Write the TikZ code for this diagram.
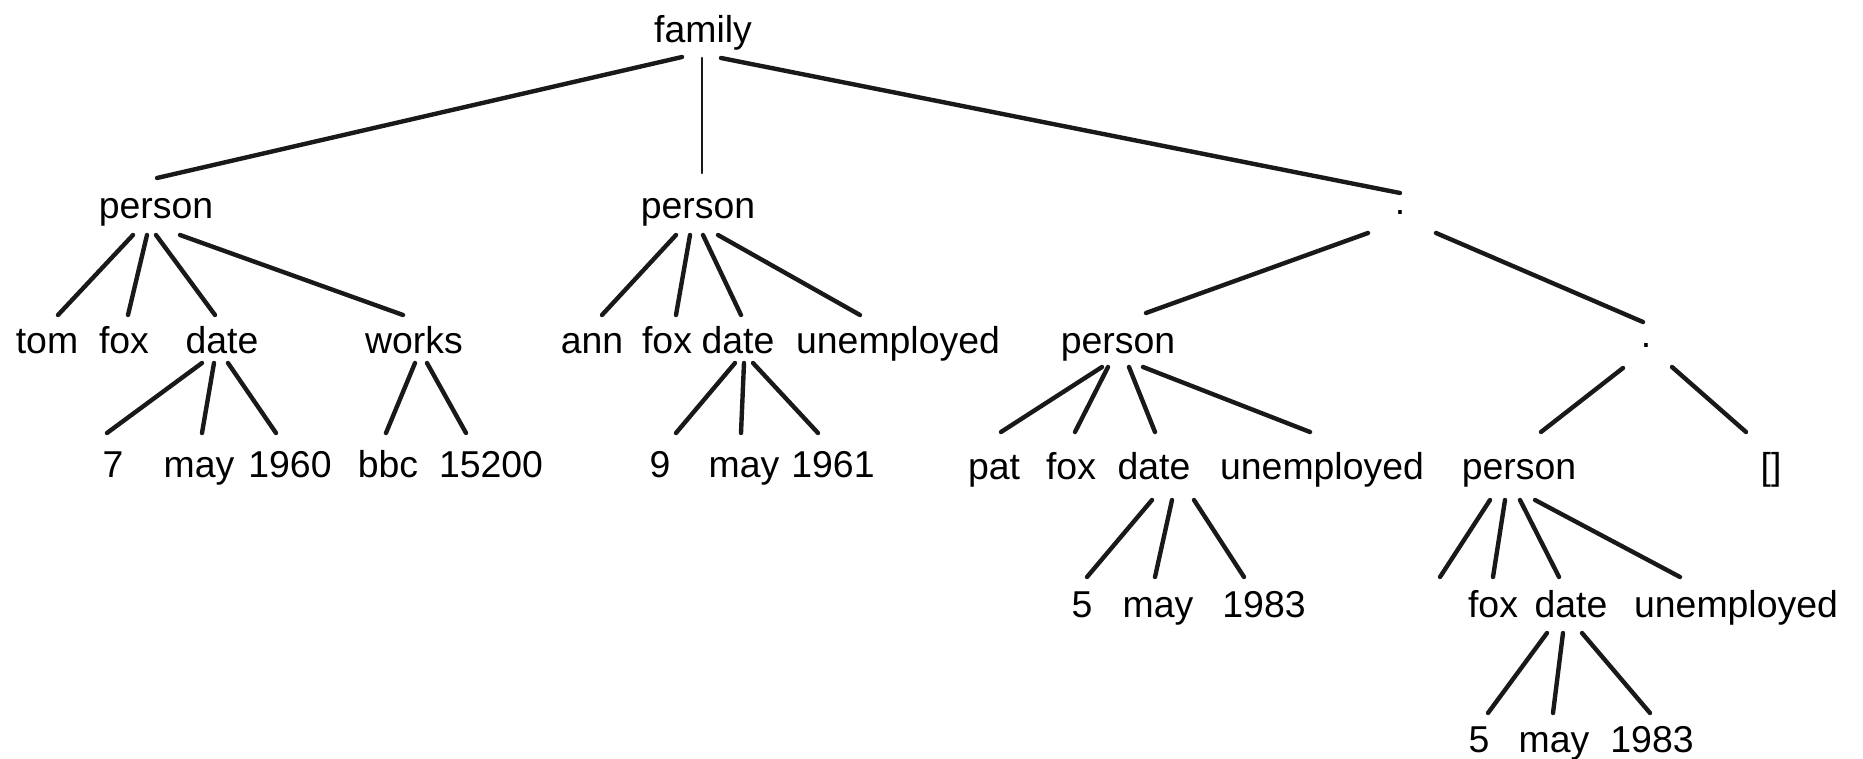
\documentclass[tikz,border=0pt]{standalone}
\usepackage{fontspec}
\setmainfont{Liberation Sans}
\usetikzlibrary{calc}
\newcommand\tedge[7][]{\draw[edge,#1] ($(#2.base)+(#3,#4)$) -- ($(#5.base)+(#6,#7)$);}
\begin{document}
\begin{tikzpicture}[x=0.5pt,y=-0.5pt,
  lbl/.style={anchor=base,inner sep=0pt,outer sep=0pt,font=\fontsize{18.7}{22}\selectfont},
  edge/.style={line width=2.2pt,line cap=round,black!90},
  thin edge/.style={line width=1.3pt}]
\useasboundingbox[fill=white] (0,0) rectangle (1863,759);
% level 0
\node[lbl] (fam) at (703,43) {family};
% level 1
\node[lbl] (p1) at (156,219) {person};
\node[lbl] (p2) at (698,219) {person};
\node[lbl] (d1) at (1400,215) {.};
% level 2
\node[lbl] (tom) at (47,353) {tom};
\node[lbl] (fox1) at (124,353) {fox};
\node[lbl] (date1) at (222,353) {date};
\node[lbl] (works) at (414,353) {works};
\node[lbl] (ann) at (592,353) {ann};
\node[lbl] (fox2) at (667,353) {fox};
\node[lbl] (date2) at (738,353) {date};
\node[lbl] (unemp1) at (898,353) {unemployed};
\node[lbl] (p3) at (1118,353) {person};
\node[lbl] (d2) at (1646,347) {.};
% level 3
\node[lbl] (n7) at (113,477) {7};
\node[lbl] (may1) at (199,477) {may};
\node[lbl] (y1960) at (290,477) {1960};
\node[lbl] (bbc) at (388,477) {bbc};
\node[lbl] (n15200) at (491,477) {15200};
\node[lbl] (n9) at (660,477) {9};
\node[lbl] (may2) at (744,477) {may};
\node[lbl] (y1961) at (833,477) {1961};
\node[lbl] (pat) at (994,479) {pat};
\node[lbl] (fox3) at (1071,479) {fox};
\node[lbl] (date3) at (1154,479) {date};
\node[lbl] (unemp2) at (1322,479) {unemployed};
\node[lbl] (p4) at (1519,479) {person};
\node[lbl] (nil) at (1771,479) {[]};
% level 4
\node[lbl] (n5a) at (1082,617) {5};
\node[lbl] (may3) at (1158,617) {may};
\node[lbl] (y1983a) at (1264,617) {1983};
\coordinate (blank) at (1440,577);
\node[lbl] (fox4) at (1493,617) {fox};
\node[lbl] (date4) at (1571,617) {date};
\node[lbl] (unemp3) at (1736,617) {unemployed};
% level 5
\node[lbl] (n5b) at (1479,752) {5};
\node[lbl] (may4) at (1554,752) {may};
\node[lbl] (y1983b) at (1652,752) {1983};
% edges
\tedge{fam}{-21}{14}{p1}{1}{-41}
\tedge[thin edge]{fam}{-1}{15}{p2}{4}{-46}
\tedge{fam}{18}{15}{d1}{0}{-22}
\tedge{p1}{-23}{16}{tom}{11}{-38}
\tedge{p1}{-9}{16}{fox1}{4}{-38}
\tedge{p1}{0}{16}{date1}{-7}{-38}
\tedge{p1}{24}{16}{works}{-11}{-38}
\tedge{p2}{-22}{16}{ann}{10}{-38}
\tedge{p2}{-8}{16}{fox2}{9}{-38}
\tedge{p2}{5}{16}{date2}{3}{-38}
\tedge{p2}{20}{16}{unemp1}{-38}{-38}
\tedge{d1}{-32}{18}{p3}{28}{-40}
\tedge{d1}{36}{18}{d2}{-3}{-25}
\tedge{date1}{-20}{10}{n7}{-6}{-44}
\tedge{date1}{-8}{10}{may1}{3}{-44}
\tedge{date1}{6}{10}{y1960}{-14}{-44}
\tedge{works}{1}{10}{bbc}{-2}{-44}
\tedge{works}{13}{10}{n15200}{-25}{-44}
\tedge{date2}{-3}{10}{n9}{16}{-44}
\tedge{date2}{6}{10}{may2}{-3}{-44}
\tedge{date2}{15}{10}{y1961}{-15}{-44}
\tedge{p3}{-16}{14}{pat}{7}{-47}
\tedge{p3}{-10}{14}{fox3}{4}{-47}
\tedge{p3}{11}{14}{date3}{1}{-47}
\tedge{p3}{25}{14}{unemp2}{-12}{-47}
\tedge{d2}{-23}{21}{p4}{22}{-47}
\tedge{d2}{26}{20}{nil}{-25}{-47}
\tedge{date3}{-2}{21}{n5a}{5}{-40}
\tedge{date3}{18}{21}{may3}{-3}{-40}
\tedge{date3}{40}{21}{y1983a}{-20}{-40}
\draw[edge] ($(p4.base)+(-29,21)$) -- (blank);
\tedge{p4}{-14}{21}{fox4}{0}{-40}
\tedge{p4}{1}{21}{date4}{-12}{-40}
\tedge{p4}{16}{21}{unemp3}{-56}{-40}
\tedge{date4}{-24}{16}{n5b}{9}{-39}
\tedge{date4}{-8}{16}{may4}{-1}{-39}
\tedge{date4}{11}{16}{y1983b}{-2}{-39}
\end{tikzpicture}
\end{document}
